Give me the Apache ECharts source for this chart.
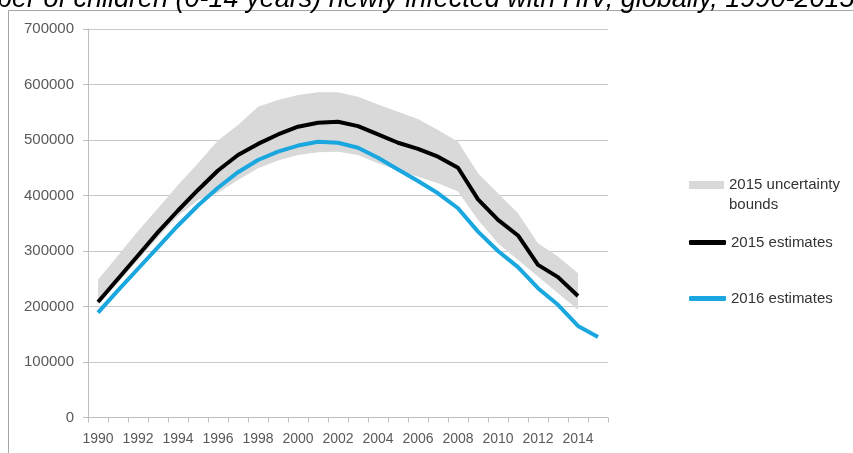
<!DOCTYPE html>
<html><head><meta charset="utf-8">
<script src="https://cdn.jsdelivr.net/npm/echarts@6/dist/echarts.min.js"></script>
<style>html,body{margin:0;padding:0;background:#fff}#c{width:853px;height:453px}</style>
</head><body><div id="c"></div>
<script>
const titleText = "Number of children (0-14 years) newly infected with HIV, globally, 1990-2015";
const years = ["1990","1991","1992","1993","1994","1995","1996","1997","1998","1999","2000","2001","2002","2003","2004","2005","2006","2007","2008","2009","2010","2011","2012","2013","2014","2015"];
const est2015 = [208000,250000,292000,334000,373000,410000,445000,473000,493000,510000,524000,531000,533000,525000,510000,495000,484000,470000,450000,393000,356000,328000,275000,253000,219000,null];
const est2016 = [189000,229000,268000,307000,346000,382000,414000,442000,464000,479000,490000,497000,495000,486000,468000,447000,426000,404000,377000,335000,300000,271000,233000,203000,165000,145000];
const boundLow = [203000,243000,284000,325000,363000,392000,405000,428000,449000,463000,473000,478000,479000,473000,458000,445000,434000,422000,407000,356000,314000,284000,254000,224000,194000,null];
const boundHigh = [248000,292000,336000,377000,419000,458000,499000,527000,560000,572000,581000,586000,586000,578000,564000,551000,538000,518000,497000,440000,404000,368000,314000,290000,260000,null];
const yTicks = [0,100000,200000,300000,400000,500000,600000,700000];

const bandDiff = boundHigh.map((h,i)=> (h==null||boundLow[i]==null)?null:h-boundLow[i]);
const chart = echarts.init(document.getElementById('c'));
const lbl = {fontFamily:'Liberation Sans', color:'#595959'};
const legText = {fontFamily:'Liberation Sans', fontSize:15, color:'#333'};
chart.setOption({
  animation:false,
  backgroundColor:'#fff',
  graphic:[
    {type:'rect', shape:{x:8.5,y:10.5,width:900,height:500}, style:{fill:'none', stroke:'#a6a6a6', lineWidth:1}, silent:true, z:-10},
    {type:'text', x:-60, y:13, style:{text:titleText, font:'italic 27px "Liberation Sans"', fill:'#000', verticalAlign:'bottom', align:'left'}}
  ],
  grid:{left:88, right:245, top:29, bottom:35.5},
  xAxis:{type:'category', data:years, boundaryGap:true,
    axisLine:{lineStyle:{color:'#bfbfbf'}},
    axisTick:{show:true, interval:0, length:5, lineStyle:{color:'#bfbfbf'}},
    axisLabel:Object.assign({interval:1, fontSize:14, margin:15}, lbl)},
  yAxis:{type:'value', min:yTicks[0], max:yTicks[yTicks.length-1], interval:100000,
    axisLine:{show:true, lineStyle:{color:'#bfbfbf'}},
    axisTick:{show:true, length:5, lineStyle:{color:'#bfbfbf'}},
    splitLine:{lineStyle:{color:'#c8c8c8'}},
    axisLabel:Object.assign({fontSize:15, margin:14, formatter:v=>String(v)}, lbl)},
  legend:[
    {data:[{name:'2015 uncertainty\nbounds', icon:'rect'}], left:684, top:150, itemWidth:35, itemHeight:8,
      formatter:n=>'\n'+n, textStyle:Object.assign({lineHeight:20}, legText), selectedMode:false},
    {data:[{name:'2015 estimates', icon:'roundRect'}], left:684, top:230, itemWidth:37, itemHeight:5,
      textStyle:legText, selectedMode:false},
    {data:[{name:'2016 estimates', icon:'roundRect'}], left:684, top:286, itemWidth:37, itemHeight:5,
      textStyle:legText, selectedMode:false}
  ],
  series:[
    {name:'lower', type:'line', stack:'band', data:boundLow, symbol:'none', lineStyle:{opacity:0}, silent:true},
    {name:'2015 uncertainty\nbounds', type:'line', stack:'band', data:bandDiff, symbol:'none', lineStyle:{opacity:0},
      itemStyle:{color:'#d9d9d9'}, areaStyle:{color:'#d9d9d9', opacity:1}, silent:true},
    {name:'2015 estimates', type:'line', data:est2015, symbol:'none', itemStyle:{color:'#000'}, lineStyle:{color:'#000', width:4}},
    {name:'2016 estimates', type:'line', data:est2016, symbol:'none', itemStyle:{color:'#1aa7e0'}, lineStyle:{color:'#1aa7e0', width:4}}
  ]
});
</script></body></html>
